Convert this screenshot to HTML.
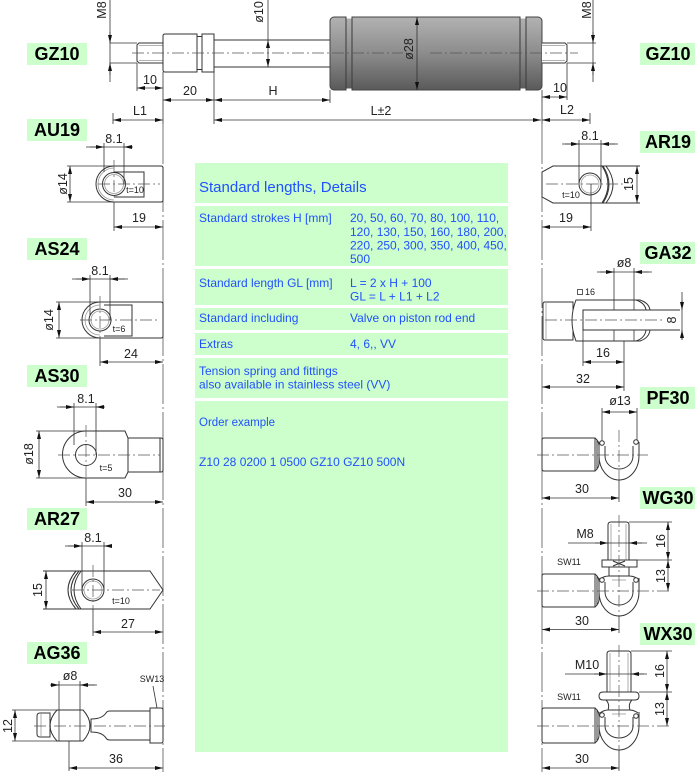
<!DOCTYPE html>
<html><head><meta charset="utf-8"><title>Z10 gas spring</title>
<style>
html,body{margin:0;padding:0;background:#fff}
svg{display:block}
.o{stroke:#333;stroke-width:1;fill:#fff}
.n{stroke:#333;stroke-width:1;fill:none}
.d{stroke:#333;stroke-width:.8;fill:none}
.g{stroke:#999;stroke-width:.8;fill:none}
.c{stroke:#555;stroke-width:.7;fill:none;stroke-dasharray:12 3 2 3}
.r{stroke:#555;stroke-width:.8;fill:none;stroke-dasharray:40 3 2 3}
.m{marker-start:url(#a);marker-end:url(#a)}
.e{marker-end:url(#a)}
text{font-family:"Liberation Sans",Arial,sans-serif}
.t{font-size:12.5px;fill:#222;text-anchor:middle}
.s{font-size:9px;fill:#222;text-anchor:middle}
.lb{font-size:18px;font-weight:bold;fill:#000;text-anchor:middle}
.tb{font-size:12px;fill:#2050ff}
.th{font-size:15px;fill:#2050ff}
</style></head><body>
<svg width="700" height="772" viewBox="0 0 700 772" xmlns="http://www.w3.org/2000/svg">
<defs>
<marker id="a" viewBox="0 0 8 4" refX="8" refY="2" markerWidth="8" markerHeight="4" markerUnits="userSpaceOnUse" orient="auto-start-reverse"><path d="M0,0L8,2L0,4z" fill="#111"/></marker>
<linearGradient id="cg" x1="0" y1="0" x2="0" y2="1">
<stop offset="0" stop-color="#b2b2b2"/><stop offset="0.5" stop-color="#8c8c8c"/><stop offset="1" stop-color="#5a5a5a"/>
</linearGradient>
</defs>

<!-- label boxes -->
<g fill="#ccffcc">
<rect x="27" y="43" width="60" height="22"/>
<rect x="27" y="119" width="60" height="22"/>
<rect x="27" y="238" width="60" height="22"/>
<rect x="27" y="365" width="60" height="22"/>
<rect x="27" y="508" width="60" height="22"/>
<rect x="27" y="642" width="60" height="22"/>
<rect x="640" y="43" width="55" height="22"/>
<rect x="640" y="131" width="55" height="22"/>
<rect x="640" y="242" width="55" height="22"/>
<rect x="640" y="387" width="55" height="22"/>
<rect x="640" y="487" width="55" height="22"/>
<rect x="640" y="623" width="55" height="22"/>
</g>
<text class="lb" x="57" y="60">GZ10</text>
<text class="lb" x="57" y="136">AU19</text>
<text class="lb" x="57" y="255">AS24</text>
<text class="lb" x="57" y="382">AS30</text>
<text class="lb" x="57" y="525">AR27</text>
<text class="lb" x="57" y="659">AG36</text>
<text class="lb" x="668" y="60">GZ10</text>
<text class="lb" x="668" y="148">AR19</text>
<text class="lb" x="668" y="259">GA32</text>
<text class="lb" x="668" y="404">PF30</text>
<text class="lb" x="668" y="504">WG30</text>
<text class="lb" x="668" y="640">WX30</text>

<!-- table -->
<g fill="#ccffcc">
<rect x="195" y="163" width="313" height="40"/>
<rect x="195" y="206" width="313" height="60"/>
<rect x="195" y="269" width="313" height="36"/>
<rect x="195" y="308" width="313" height="22"/>
<rect x="195" y="333" width="313" height="22"/>
<rect x="195" y="358" width="313" height="40"/>
<rect x="195" y="401" width="313" height="351"/>
</g>
<text class="th" x="199" y="192">Standard lengths, Details</text>
<text class="tb" x="199" y="222">Standard strokes H [mm]</text>
<text class="tb" x="350" y="222">20, 50, 60, 70, 80, 100, 110,</text>
<text class="tb" x="350" y="236">120, 130, 150, 160, 180, 200,</text>
<text class="tb" x="350" y="249.5">220, 250, 300, 350, 400, 450,</text>
<text class="tb" x="350" y="263">500</text>
<text class="tb" x="199" y="287">Standard length GL [mm]</text>
<text class="tb" x="350" y="287">L = 2 x H + 100</text>
<text class="tb" x="350" y="300.5">GL = L + L1 + L2</text>
<text class="tb" x="199" y="322">Standard including</text>
<text class="tb" x="350" y="322">Valve on piston rod end</text>
<text class="tb" x="199" y="348">Extras</text>
<text class="tb" x="350" y="348">4, 6,, VV</text>
<text class="tb" x="199" y="375">Tension spring and fittings</text>
<text class="tb" x="199" y="388.5">also available in stainless steel (VV)</text>
<text class="tb" x="199" y="426" style="font-size:11.5px">Order example</text>
<text class="tb" x="199" y="466">Z10 28 0200 1 0500 GZ10 GZ10 500N</text>

<!-- ===== TOP ASSEMBLY ===== -->
<!-- left stud -->
<path class="o" d="M163,43H139L137,45V61L139,63H163"/>
<path class="g" d="M139,45.5H163M139,60.5H163"/>
<!-- fitting -->
<path class="o" d="M165,34H197V72H165Q163,72 163,70V36Q163,34 165,34Z"/>
<path class="o" d="M197,36.5H202V69.5H197Z"/>
<rect class="o" x="202" y="34" width="12" height="38"/>
<!-- rod -->
<path class="n" d="M214,40H330M214,67H330"/>
<!-- cylinder -->
<rect x="330" y="17" width="212" height="73" rx="4" fill="url(#cg)" stroke="#444"/>
<path stroke="#3a3a3a" stroke-width="1" d="M346,17V90M352,17V90M520,17V90M526,17V90"/>
<path fill="#fff" d="M346.5,16h5v2.5h-5zM346.5,88.5h5v2.5h-5zM520.5,16h5v2.5h-5zM520.5,88.5h5v2.5h-5z"/>
<!-- right stud -->
<path class="o" d="M542,43H565L567,45V61L565,63H542"/>
<path class="g" d="M542,45.5H565M542,60.5H565"/>
<!-- centerline -->
<path class="c" d="M132,53H403M430,53H578"/>

<!-- M8 left -->
<path class="d" d="M110,0V82M110,43H137M110,63H137"/>
<path class="d e" d="M110,32V43"/><path class="d e" d="M110,75V63"/>
<text class="t" transform="translate(106,10) rotate(-90)">M8</text>
<!-- ø10 -->
<path class="d" d="M268,0V40"/>
<path class="d m" d="M268,40V67"/>
<text class="t" transform="translate(263,12) rotate(-90)">ø10</text>
<!-- ø28 -->
<path class="d m" d="M417,17V90"/>
<text class="t" transform="translate(413,49) rotate(-90)">ø28</text>
<!-- M8 right -->
<path class="d" d="M593,0V82M567,43H596M567,63H596"/>
<path class="d e" d="M593,32V43"/><path class="d e" d="M593,75V63"/>
<text class="t" transform="translate(591,10) rotate(-90)">M8</text>

<!-- bottom dims of top assembly -->
<path class="d" d="M137,63V91M163,72V124M214,72V124M330,90V103M113,113V124M590,113V124M542,90V124M567,63V100"/>
<path class="d m" d="M137,88H163"/>
<text class="t" x="150" y="84">10</text>
<path class="d m" d="M163,100H214"/>
<text class="t" x="190" y="95">20</text>
<path class="d m" d="M214,100H330"/>
<text class="t" x="273" y="95">H</text>
<path class="d m" d="M113,120H163"/>
<text class="t" x="140" y="115">L1</text>
<path class="d m" d="M214,120H541"/>
<text class="t" x="381" y="115">L±2</text>
<path class="d m" d="M542,120H590"/>
<text class="t" x="567" y="114">L2</text>
<path class="d m" d="M542,97H567"/>
<text class="t" x="560" y="92">10</text>

<!-- reference lines -->
<path class="r" d="M163,124V772"/>
<path class="r" d="M542,124V772"/>

<!-- ===== AU19 ===== -->
<path class="o" d="M114,166H161Q163,166 163,168V200Q163,202 161,202H114A18,18 0 0 1 114,166Z"/>
<path class="g" d="M114,200A16,16 0 0 1 114,168"/>
<path class="n" d="M114,172H144V197H114"/>
<circle class="o" cx="114" cy="184" r="11.5"/>
<circle class="g" cx="114" cy="184" r="9.5"/>
<path class="d" d="M67,166H114M67,202H114"/>
<path class="d m" d="M70,166V202"/>
<text class="t" transform="translate(67,184) rotate(-90)">ø14</text>
<path class="d" d="M86,147H133M104,143V172M124,143V184"/>
<path class="d e" d="M90,147H104"/><path class="d e" d="M131,147H124"/>
<text class="t" x="114" y="143">8.1</text>
<path class="c" d="M98,184H160M114,160V200"/>
<path class="d" d="M114,202V231"/>
<path class="d m" d="M114,227H163"/>
<text class="t" x="139" y="222">19</text>
<text class="s" x="135" y="193">t=10</text>

<!-- ===== AS24 ===== -->
<path class="o" d="M100,302H161Q163,302 163,304V336Q163,338 161,338H100A18,18 0 0 1 100,302Z"/>
<path class="g" d="M100,335A15,15 0 0 1 100,305"/>
<path class="n" d="M104,305H132V336H104"/>
<circle class="o" cx="100" cy="320" r="11"/>
<circle class="g" cx="100" cy="320" r="9"/>
<path class="d" d="M56,302H100M56,338H100"/>
<path class="d m" d="M59,302V338"/>
<text class="t" transform="translate(53,320) rotate(-90)">ø14</text>
<path class="d" d="M72,279H128M90,275V315M110,275V320"/>
<path class="d e" d="M76,279H90"/><path class="d e" d="M125,279H110"/>
<text class="t" x="100" y="275">8.1</text>
<path class="c" d="M80,320H160M100,296V338"/>
<path class="d" d="M100,338V366"/>
<path class="d m" d="M100,362H163"/>
<text class="t" x="131" y="358">24</text>
<text class="s" x="119" y="332">t=6</text>

<!-- ===== AS30 ===== -->
<path class="o" d="M86,431H125L128,438H161Q163,438 163,440V470Q163,472 161,472H128L125,478H86A23.5,23.5 0 0 1 86,431Z"/>
<path class="n" d="M128,438V472M160,438V472"/>
<circle class="o" cx="86" cy="455" r="10.5"/>
<path class="d" d="M36,431H86M36,478H86"/>
<path class="d m" d="M39,431V478"/>
<text class="t" transform="translate(33,454) rotate(-90)">ø18</text>
<path class="d" d="M57,407H105M74,403V445M96,403V455"/>
<path class="d e" d="M60,407H74"/><path class="d e" d="M104,407H96"/>
<text class="t" x="86" y="403">8.1</text>
<path class="c" d="M58,455H160M86,425V478"/>
<path class="d" d="M86,478V506"/>
<path class="d m" d="M86,502H163"/>
<text class="t" x="125" y="497">30</text>
<text class="s" x="106" y="471">t=5</text>

<!-- ===== AR27 ===== -->
<path class="o" d="M79,571H150L163,590L150,609H79Q63,590 79,571Z"/>
<path class="n" d="M43,571H80M43,609H80M76,571Q60,590 76,609M81,571Q67,590 81,609"/>
<circle class="o" cx="93" cy="590" r="11"/>
<circle class="g" cx="93" cy="590" r="9"/>
<path class="d m" d="M46,571V609"/>
<text class="t" transform="translate(42,590) rotate(-90)">15</text>
<path class="d" d="M65,546H112M82,542V590M104,542V590"/>
<path class="d e" d="M68,546H82"/><path class="d e" d="M111,546H104"/>
<text class="t" x="93" y="542">8.1</text>
<path class="c" d="M72,590H160M93,565V609"/>
<path class="d" d="M93,609V636"/>
<path class="d m" d="M93,632H163"/>
<text class="t" x="128" y="628">27</text>
<text class="s" x="121" y="604">t=10</text>

<!-- ===== AG36 ===== -->
<path class="o" d="M50,713H40Q37,713 37,716V734Q37,737 40,737H50Z"/>
<path class="g" d="M41,714V736"/>
<path class="o" d="M57,710H83Q97,725.5 83,741H57Q43,725.5 57,710Z"/>
<path class="o" d="M91,719Q102,719 106,713Q107,711 110,711H150V740H110Q107,740 106,738Q102,732 91,732Z"/>
<path class="o" d="M150,708H161Q163,708 163,710V741Q163,743 161,743H150Z"/>
<path class="d" d="M59,681V741M80,681V741M12,710H62M12,741H62"/>
<path class="d" d="M50,685H97"/>
<path class="d e" d="M51,685H59"/><path class="d e" d="M95,685H80"/>
<text class="t" x="70" y="680">ø8</text>
<path class="d m" d="M15,710V741"/>
<text class="t" transform="translate(12,726) rotate(-90)">12</text>
<text class="s" x="152" y="682">SW13</text>
<path class="d" d="M153,686L157,708"/>
<path class="c" d="M34,726H165"/>
<path class="d" d="M69,741V771"/>
<path class="d m" d="M69,768H163"/>
<text class="t" x="116" y="763">36</text>

<!-- ===== AR19 ===== -->
<path class="o" d="M553,166H603Q615,184.5 603,203H553L542,197V172Z"/>
<path class="n" d="M603,166H640M603,203H640M602,166Q614,184.5 602,203M606,166Q620,184.5 606,203"/>
<circle class="o" cx="590" cy="184" r="11"/>
<circle class="g" cx="590" cy="184" r="9"/>
<path class="d m" d="M637,166V203"/>
<text class="t" transform="translate(633,184) rotate(-90)">15</text>
<path class="d" d="M562,144H618M579,140V184M601,140V184"/>
<path class="d e" d="M565,144H579"/><path class="d e" d="M615,144H601"/>
<text class="t" x="590" y="140">8.1</text>
<path class="c" d="M546,184H626"/>
<path class="d" d="M591,184V231"/>
<path class="d m" d="M542,227H591"/>
<text class="t" x="566" y="222">19</text>
<text class="s" x="571" y="198">t=10</text>

<!-- ===== GA32 ===== -->
<path class="o" d="M545,302H573V340H545Q543,340 543,338V304Q543,302 545,302Z"/>
<path class="g" d="M546,303V339"/>
<path class="o" d="M576,300H640Q649,303 650,310H583V330H650Q649,338 640,341H576Q568,320.5 576,300Z"/>
<path class="n" d="M636,300Q645,303 646,310M636,341Q645,338 646,330"/>
<path class="n" d="M583,310H680M583,330H680"/>
<path class="d" d="M614,268V310M614,330V341M634,268V310M634,330V341"/>
<path class="d" d="M597,272H652"/>
<path class="d e" d="M600,272H614"/><path class="d e" d="M649,272H634"/>
<text class="t" x="624" y="267">ø8</text>
<rect x="577.5" y="289.5" width="5" height="5" fill="none" stroke="#333" stroke-width=".8"/>
<text class="s" x="585" y="295" style="text-anchor:start">16</text>
<path class="d" d="M682,292V340"/>
<path class="d e" d="M682,300V310"/><path class="d e" d="M682,340V330"/>
<text class="t" transform="translate(676,320) rotate(-90)">8</text>
<path class="c" d="M545,320H662"/>
<path class="d" d="M583,330V366M624,341V391"/>
<path class="d m" d="M583,362H624"/>
<text class="t" x="603" y="357">16</text>
<path class="d m" d="M542,387H624"/>
<text class="t" x="583" y="383">32</text>

<!-- ===== PF30 ===== -->
<path class="d" d="M602,408V443M637,408V443"/>
<path class="d m" d="M602,412H637"/>
<text class="t" x="620" y="405">ø13</text>
<path class="o" d="M544,438H595V471H544Q542,471 542,469V440Q542,438 544,438Z"/>
<path class="n" d="M595,438Q599,441 599,446V463Q599,468 595,471M597,440V469"/>
<path class="n" d="M599,442V456A20,24 0 0 0 639,456V442"/>
<path class="n" d="M605,446V456A14,13 0 0 0 633,456V446"/>
<circle class="o" cx="602" cy="443" r="2.3"/>
<circle class="o" cx="636" cy="442" r="2.3"/>
<path class="c" d="M537,455H648M619,430V480"/>
<path class="d" d="M619,480V502"/>
<path class="d m" d="M542,498H619"/>
<text class="t" x="582" y="493">30</text>

<!-- ===== WG30 ===== -->
<path class="o" d="M608,560V525Q608,522 611,522H626Q629,522 629,525V560"/>
<path class="g" d="M611,524V560M626,524V560"/>
<rect class="o" x="602" y="560" width="35" height="7"/>
<path class="n" d="M613,561L625,566M613,566L625,561"/>
<path class="o" d="M544,574H595V607H544Q542,607 542,605V576Q542,574 544,574Z"/>
<path class="n" d="M595,574Q599,577 599,582V599Q599,604 595,607M597,576V605"/>
<path class="n" d="M609,567V576M629,567V576M600,579Q604,576 609,576H629Q634,576 638,579"/>
<path class="n" d="M599,578V592A20,24 0 0 0 639,592V578"/>
<path class="n" d="M605,582V592A14,13 0 0 0 633,592V582"/>
<path class="g" d="M612,580H626"/>
<circle class="o" cx="602" cy="580" r="2.3"/>
<circle class="o" cx="636" cy="580" r="2.3"/>
<path class="d" d="M568,543H647"/>
<path class="d e" d="M595,543H608"/><path class="d e" d="M642,543H629"/>
<text class="t" x="585" y="538">M8</text>
<path class="d" d="M629,522H672M637,560H672"/>
<path class="d m" d="M668,522V560"/>
<path class="d m" d="M668,560V591"/>
<text class="t" transform="translate(665,541) rotate(-90)">16</text>
<text class="t" transform="translate(665,576) rotate(-90)">13</text>
<text class="s" x="569" y="565">SW11</text>
<path class="c" d="M537,591H672M619,515V616"/>
<path class="d" d="M619,616V633"/>
<path class="d m" d="M542,629.5H619"/>
<text class="t" x="582" y="625">30</text>

<!-- ===== WX30 ===== -->
<path class="o" d="M607,692V654Q607,651 610,651H628Q631,651 631,654V692"/>
<path class="g" d="M610,653V692M628,653V692"/>
<path class="o" d="M603,692H635Q639,692 639,696Q639,700 635,700H603Q599,700 599,696Q599,692 603,692Z"/>
<path class="o" d="M544,708H595V743H544Q542,743 542,741V710Q542,708 544,708Z"/>
<path class="n" d="M595,708Q599,711 599,716V735Q599,740 595,743M597,710V741"/>
<path class="n" d="M606,700Q610,704 608,710M632,700Q628,704 630,710M600,713Q604,710 608,710H630Q634,710 638,713"/>
<path class="n" d="M599,712V726A20,24 0 0 0 639,726V712"/>
<path class="n" d="M605,717V726A14,12 0 0 0 633,726V717"/>
<path class="g" d="M612,714H626"/>
<circle class="o" cx="602" cy="715" r="2.3"/>
<circle class="o" cx="636" cy="716" r="2.3"/>
<path class="d" d="M565,674H647"/>
<path class="d e" d="M594,674H607"/><path class="d e" d="M644,674H631"/>
<text class="t" x="587" y="669">M10</text>
<path class="d" d="M631,651H672M639,692H672"/>
<path class="d m" d="M667,651V692"/>
<path class="d m" d="M667,692V726"/>
<text class="t" transform="translate(664,671) rotate(-90)">16</text>
<text class="t" transform="translate(664,709) rotate(-90)">13</text>
<text class="s" x="569" y="700">SW11</text>
<path class="c" d="M537,726H672M619,645V750"/>
<path class="d" d="M619,750V771"/>
<path class="d m" d="M542,768H619"/>
<text class="t" x="582" y="763">30</text>
</svg>
</body></html>
